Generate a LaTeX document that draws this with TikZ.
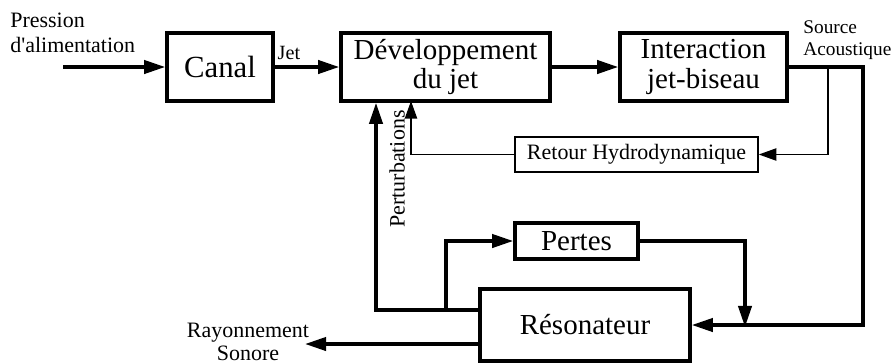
\documentclass[tikz,border=0pt]{standalone}
\usepackage{fontspec}
\setmainfont{Liberation Serif}
\usetikzlibrary{arrows.meta,positioning}

\begin{document}
\begin{tikzpicture}[
        bloc/.style={draw,line width=2pt,inner sep=0pt,align=center,font=\fontsize{16.5}{17}\selectfont},
        petitbloc/.style={draw,line width=0.9pt,inner sep=0pt,font=\fontsize{12.5}{14}\selectfont},
        legende/.style={inner sep=0pt,align=left,font=\fontsize{12.5}{14}\selectfont},
        fleche/.style={-{Triangle[length=12pt,width=7.5pt]},line width=2pt},
        fleche fine/.style={-{Triangle[length=10pt,width=7pt]},line width=0.7pt}
    ]
            \useasboundingbox (0,0) rectangle (17.86,7.26);

            % Main blocks
            \node[bloc,minimum width=2.12cm,minimum height=1.36cm,font=\fontsize{17.5}{18}\selectfont] (canal) at (4.4,5.92) {Canal};
            \node[bloc,minimum width=4.18cm,minimum height=1.36cm] (dev) at (8.91,5.92) {Développement\\du jet};
            \node[bloc,minimum width=3.34cm,minimum height=1.36cm] (inter) at (14.07,5.92) {Interaction\\jet-biseau};

            % Feedback blocks
            \node[petitbloc,minimum width=4.86cm,minimum height=0.70cm] (retour) at (12.73,4.17) {Retour Hydrodynamique};
            \node[bloc,minimum width=2.46cm,minimum height=0.72cm] (pertes) at (11.53,2.44) {Pertes};
            \node[bloc,minimum width=4.2cm,minimum height=1.44cm] (reso) at (11.7,0.76) {Résonateur};

            % Labels
            \node[legende,anchor=west] (pression) at (0.2,6.6) {Pression\\d\textquotesingle alimentation};
            \node[legende,anchor=west,font=\fontsize{11}{12.5}\selectfont] (sourceLabel) at (16.06,6.45) {Source\\Acoustique};
            \node[legende,rotate=90] (perturbLabel) at (7.94,3.88) {Perturbations};
            \node[legende,align=center,font=\fontsize{12.5}{13}\selectfont] (rayonLabel) at (4.96,0.42) {Rayonnement\\Sonore};

            % Invisible corners
            \coordinate (entree) at (1.26,5.92);
            \coordinate (source) at (17.26,5.92);
            \coordinate (prise) at (16.56,5.92);
            \coordinate (retourDev) at (8.22,5.24);
            \coordinate (perturb) at (7.52,1.06);
            \coordinate (pertesIn) at (8.92,1.06);
            \coordinate (pertesOut) at (14.9,0.72);
            \coordinate (rayon) at (6.1,0.38);

            % Forward path
            \draw[fleche] (entree) -- (canal);
            \draw[fleche] (canal) -- node[pos=0.22,above=0.12cm,legende,font=\fontsize{11.5}{12}\selectfont] (jetLabel) {Jet} (dev);
            \draw[fleche] (dev) -- (inter);
            \draw[fleche] (inter.east) -- (source) |- (reso.east);

            % Hydrodynamic feedback
            \draw[fleche fine] (prise) |- (retour.east);
            \draw[fleche fine] (retour.west) -| (retourDev);

            % Resonator loops
            \draw[fleche] (reso.west |- perturb) -- (perturb) -- (perturb |- dev.south);
            \draw[fleche] (pertesIn) |- (pertes.west);
            \draw[fleche] (pertes.east) -| (pertesOut);
            \draw[fleche] (reso.west |- rayon) -- (rayon);

        \end{tikzpicture}
\end{document}
